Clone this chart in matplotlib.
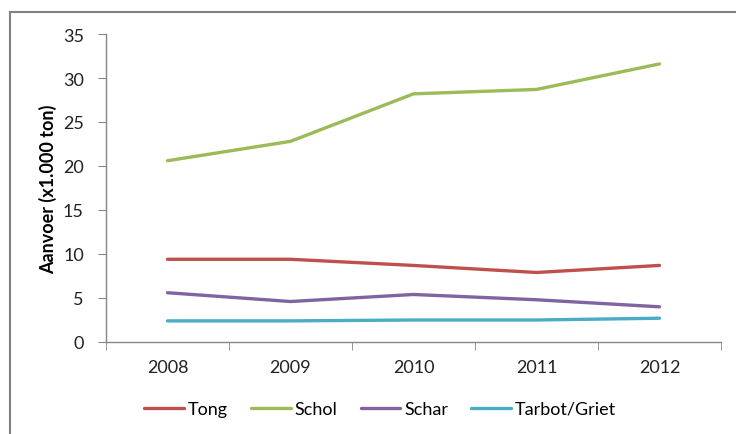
import matplotlib
matplotlib.use("Agg")
import matplotlib.pyplot as plt
from matplotlib.patches import Rectangle

plt.rcParams['font.family'] = ['Lato', 'DejaVu Sans']

# data
years = ['2008', '2009', '2010', '2011', '2012']
tong = [9.4, 9.4, 8.7, 7.9, 8.7]
schol = [20.6, 22.8, 28.2, 28.7, 31.6]
schar = [5.6, 4.6, 5.4, 4.8, 4.0]
tarbot = [2.4, 2.4, 2.5, 2.5, 2.7]
names = ['Tong', 'Schol', 'Schar', 'Tarbot/Griet']
colors = ['#C0504D', '#9BBB59', '#8064A2', '#4BACC6']

fs = 13

fig = plt.figure(figsize=(7.36, 4.35), dpi=100)
ax = fig.add_axes([106/736, 1 - 343/435, 615/736, 308/435])

x = list(range(len(years)))
for vals, name, c in zip([tong, schol, schar, tarbot], names, colors):
    ax.plot(x, vals, color=c, lw=2.4, label=name, solid_capstyle='round')

ax.set_xlim(-0.5, len(years) - 0.5)
ax.set_ylim(0, 35)
ax.set_yticks(range(0, 36, 5))
ax.set_xticks(x)
ax.set_xticklabels(years)
ax.set_xticks([i - 0.5 for i in range(len(years) + 1)], minor=True)
ax.tick_params(axis='x', which='major', length=0, pad=12, labelsize=fs, colors='#222222')
ax.tick_params(axis='x', which='minor', length=6, color='#868686', direction='out')
ax.tick_params(axis='y', length=6, color='#868686', pad=10, labelsize=fs, labelcolor='#222222')

for s in ['top', 'right']:
    ax.spines[s].set_visible(False)
for s in ['left', 'bottom']:
    ax.spines[s].set_color('#868686')
    ax.spines[s].set_linewidth(1)

ax.set_ylabel('Aanvoer (x1.000 ton)', fontsize=fs, fontweight='bold', labelpad=4)

ax.legend(loc='center', bbox_to_anchor=(380/736, 1 - 410/435), bbox_transform=fig.transFigure,
          ncol=4, frameon=False, fontsize=fs, handlelength=2.2, handletextpad=0.2,
          columnspacing=1.3)

# outer chart frame
fig.patches.append(Rectangle((10/736, -0.2), 1.0, (435 - 13)/435 + 0.2, transform=fig.transFigure,
                             fill=False, edgecolor='#808080', lw=1.5))

fig.savefig('out.png', dpi=100)
